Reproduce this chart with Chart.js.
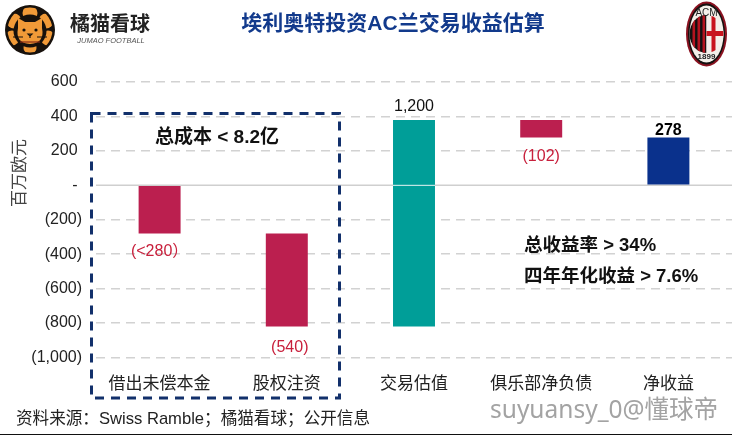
<!DOCTYPE html>
<html><head><meta charset="utf-8">
<script src="https://cdn.jsdelivr.net/npm/chart.js@4"></script>
<style>html,body{margin:0;padding:0;background:#fff}#w{position:relative;width:732px;height:435px}canvas{display:block}</style>
</head><body><div id="w"><canvas id="c" width="732" height="435"></canvas></div>
<script>
const categories=["借出未偿本金","股权注资","交易估值","俱乐部净负债","净收益"];
const barStart=[0,-280,-820,380,0];
const barEnd=[-280,-820,380,278,278];
const barColors=["#bb1f4f","#bb1f4f","#009e98","#bb1f4f","#0a318c"];
const valueLabels=["(<280）","(540)","1,200","(102)","278"];
const yTicks=[600,400,200,0,-200,-400,-600,-800,-1000];
const FF='"Liberation Sans","Noto Sans CJK SC",sans-serif';
function fmt(v){if(v===0)return "- ";const s=Math.abs(v).toLocaleString("en-US");return v<0?"("+s+")":s+" ";}
function txt(c,t,x,y,font,color,align){c.font=font;c.fillStyle=color;c.textAlign=align||"left";c.textBaseline="middle";c.fillText(t,x,y);}
function drawCat(c){
 c.save();c.fillStyle="#17110c";c.beginPath();c.arc(30,30,25,0,7);c.fill();
 c.save();c.beginPath();c.arc(30,30,22.5,0,7);c.clip();
 c.fillStyle="#f19a38";
 [[30,13,7.5],[14,21,7.5],[46,21,7.5],[12,38,7.5],[48,38,7.5],[30,48,6.5]].forEach(p=>{c.beginPath();c.arc(p[0],p[1],p[2],0,7);c.fill();});
 c.restore();
 c.fillStyle="#17110c";c.beginPath();c.arc(30,31,16.5,0,7);c.fill();
 c.fillStyle="#f19a38";c.beginPath();c.moveTo(18,28);c.lineTo(18,18);c.lineTo(25,22);c.lineTo(35,22);c.lineTo(42,18);c.lineTo(42,28);c.quadraticCurveTo(45,43,30,44);c.quadraticCurveTo(15,43,18,28);c.fill();
 c.fillStyle="#17110c";c.beginPath();c.arc(24,30,1.6,0,7);c.arc(36,30,1.6,0,7);c.fill();
 c.strokeStyle="#17110c";c.lineWidth=1.2;c.beginPath();c.moveTo(28,34);c.lineTo(32,34);c.lineTo(30,36);c.closePath();c.moveTo(30,36);c.lineTo(30,38);c.moveTo(13,37);c.lineTo(23,37);c.moveTo(47,37);c.lineTo(37,37);c.stroke();
 c.strokeStyle="#8a2a14";c.beginPath();c.moveTo(20,42);c.lineTo(40,42);c.stroke();
 c.restore();
}
function drawMilan(c){
 const x=706.5,y=34;c.save();
 c.fillStyle="#8a1220";c.beginPath();c.ellipse(x,y,20.5,32.5,0,0,7);c.fill();
 c.fillStyle="#14100f";c.beginPath();c.ellipse(x,y,18.5,30.5,0,0,7);c.fill();
 c.fillStyle="#f3efe9";c.beginPath();c.ellipse(x,y,17,28.5,0,0,7);c.fill();
 c.save();c.beginPath();c.ellipse(x,y,17,19,0,0,7);c.clip();
 c.fillStyle="#111";c.fillRect(x-18,y-19,18,38);
 c.fillStyle="#b3141f";for(let i=0;i<3;i++)c.fillRect(x-14+i*5,y-19,2.6,38);
 c.fillStyle="#f4f0ea";c.fillRect(x,y-19,18,38);
 c.fillStyle="#c8141e";c.fillRect(x+5,y-19,4,38);c.fillRect(x,y-3,18,5);
 c.restore();
 txt(c,"ACM",x,y-21,'10px '+FF,"#222","center");
 txt(c,"1899",x,y+23,'bold 8px '+FF,"#222","center");
 c.restore();
}
const deco={id:"deco",
 beforeDatasetsDraw(ch){const c=ch.ctx,y=ch.scales.y,a=ch.chartArea,p=y.getPixelForValue(0);
  c.save();c.strokeStyle="#cfcfcf";c.lineWidth=1.5;c.beginPath();c.moveTo(a.left,p);c.lineTo(a.right,p);c.stroke();c.restore();},
 afterDatasetsDraw(ch){const c=ch.ctx,y=ch.scales.y,m=ch.getDatasetMeta(0).data;
  c.save();
  const t=m[2];c.strokeStyle="#e8f5f4";c.lineWidth=1;c.beginPath();c.moveTo(t.x-t.width/2,y.getPixelForValue(0));c.lineTo(t.x+t.width/2,y.getPixelForValue(0));c.stroke();
  const red="#c8203c",vf='16px '+FF;
  txt(c,valueLabels[0],m[0].x,y.getPixelForValue(barEnd[0])+18,vf,red,"center");
  txt(c,valueLabels[1],m[1].x+3,y.getPixelForValue(barEnd[1])+21,vf,red,"center");
  txt(c,valueLabels[2],m[2].x,y.getPixelForValue(barEnd[2])-13,vf,"#111","center");
  txt(c,valueLabels[3],m[3].x,y.getPixelForValue(barEnd[3])+19,vf,red,"center");
  txt(c,valueLabels[4],m[4].x,y.getPixelForValue(barEnd[4])-7,'bold 16px '+FF,"#000","center");
  c.strokeStyle="#12306b";c.lineWidth=3;c.setLineDash([9,7]);c.strokeRect(91.5,113.5,248,284.5);c.setLineDash([]);
  txt(c,"埃利奥特投资AC兰交易收益估算",393,24,'bold 21px '+FF,"#123a8c","center");
  txt(c,"总成本 < 8.2亿",217,137.5,'bold 19px '+FF,"#111","center");
  txt(c,"总收益率 > 34%",524,245.5,'bold 18.5px '+FF,"#111");
  txt(c,"四年年化收益 > 7.6%",524,276.5,'bold 18.5px '+FF,"#111");
  c.save();c.translate(20,173);c.rotate(-Math.PI/2);txt(c,"百万欧元",0,0,'17px '+FF,"#444","center");c.restore();
  txt(c,"橘猫看球",110,25,'bold 20px '+FF,"#222","center");
  txt(c,"JUMAO FOOTBALL",111,41,'italic 7.5px '+FF,"#555","center");
  txt(c,"资料来源：Swiss Ramble；橘猫看球；公开信息",16,419,'16.6px '+FF,"#222");
  txt(c,"suyuansy_0@懂球帝",490,411,'24.5px "Noto Sans","Noto Sans CJK SC",sans-serif',"#a3a3a3");
  c.fillStyle="#111";c.fillRect(0,434,732,1);
  drawCat(c);drawMilan(c);
  c.restore();}
};
new Chart(document.getElementById("c"),{type:"bar",
 data:{labels:categories,datasets:[{data:barStart.map((s,i)=>[s,barEnd[i]]),backgroundColor:barColors,barPercentage:1,categoryPercentage:0.33,borderWidth:0,borderSkipped:false}]},
 options:{responsive:false,animation:false,devicePixelRatio:1,
  layout:{padding:{top:82,left:0,right:0,bottom:0}},
  plugins:{legend:{display:false},tooltip:{enabled:false},title:{display:false}},
  scales:{
   x:{grid:{display:false,drawTicks:false},border:{display:false},
    ticks:{color:"#222",font:{family:FF,size:17},padding:17,maxRotation:0,autoSkip:false},
    afterFit(s){s.height=77.5;}},
   y:{min:-1000,max:600,
    grid:{color(ctx){return ctx.tick&&ctx.tick.value===0?"rgba(0,0,0,0)":"#d2d2d2";},lineWidth:1.5,drawTicks:false},
    border:{display:false,dash:[9,6]},
    afterBuildTicks(s){s.ticks=yTicks.map(v=>({value:v}));},
    ticks:{color:"#222",font:{family:FF,size:16},padding:14,callback:v=>fmt(v)},
    afterFit(s){s.width=96;}}
  }},
 plugins:[deco]
});
</script></body></html>
